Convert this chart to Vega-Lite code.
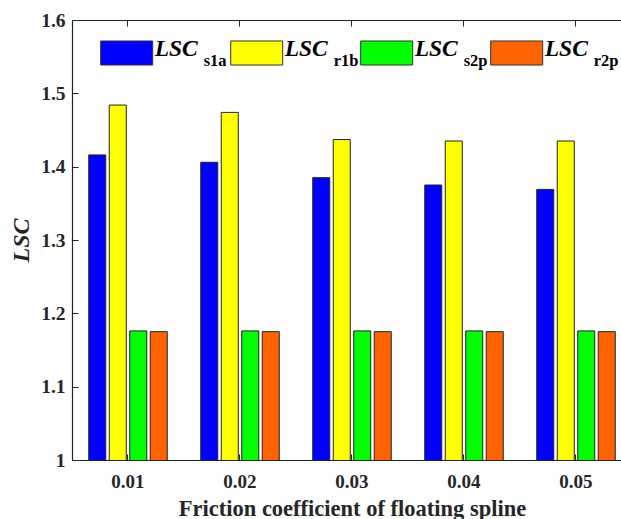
{
  "$schema": "https://vega.github.io/schema/vega-lite/v6.json",
  "width": 549,
  "height": 440,
  "autosize": "none",
  "padding": {"left": 72, "top": 20, "right": 0, "bottom": 59},
  "background": "white",
  "config": {
    "view": {"stroke": null},
    "font": "Liberation Serif",
    "axis": {"grid": false, "domainColor": "#262626", "tickColor": "#262626", "labelColor": "#262626", "titleColor": "#262626", "labelFont": "Liberation Serif", "titleFont": "Liberation Serif", "labelFontWeight": "bold", "titleFontWeight": "bold"}
  },
  "datasets": {
    "bars": [
      {"coef": "0.01", "series": "s1a", "value": 1.416},
      {"coef": "0.01", "series": "r1b", "value": 1.484},
      {"coef": "0.01", "series": "s2p", "value": 1.176},
      {"coef": "0.01", "series": "r2p", "value": 1.175},
      {"coef": "0.02", "series": "s1a", "value": 1.406},
      {"coef": "0.02", "series": "r1b", "value": 1.474},
      {"coef": "0.02", "series": "s2p", "value": 1.176},
      {"coef": "0.02", "series": "r2p", "value": 1.175},
      {"coef": "0.03", "series": "s1a", "value": 1.385},
      {"coef": "0.03", "series": "r1b", "value": 1.437},
      {"coef": "0.03", "series": "s2p", "value": 1.176},
      {"coef": "0.03", "series": "r2p", "value": 1.175},
      {"coef": "0.04", "series": "s1a", "value": 1.375},
      {"coef": "0.04", "series": "r1b", "value": 1.435},
      {"coef": "0.04", "series": "s2p", "value": 1.176},
      {"coef": "0.04", "series": "r2p", "value": 1.175},
      {"coef": "0.05", "series": "s1a", "value": 1.369},
      {"coef": "0.05", "series": "r1b", "value": 1.435},
      {"coef": "0.05", "series": "s2p", "value": 1.176},
      {"coef": "0.05", "series": "r2p", "value": 1.175}
    ],
    "legend": [
      {"series": "s1a", "main": "LSC", "sub": "s1a"},
      {"series": "r1b", "main": "LSC", "sub": "r1b"},
      {"series": "s2p", "main": "LSC", "sub": "s2p"},
      {"series": "r2p", "main": "LSC", "sub": "r2p"}
    ]
  },
  "layer": [
    {
      "layer": [
        {
          "data": {"name": "bars"},
          "mark": {"type": "bar", "stroke": "#222222", "strokeWidth": 1, "clip": true},
          "encoding": {
            "x": {"field": "coef", "type": "nominal", "sort": null,
              "scale": {"type": "band", "paddingInner": 0.268, "paddingOuter": 0.0849, "align": 0.789},
              "axis": {"orient": "bottom", "title": "Friction coefficient of floating spline", "labelAngle": 0, "labelFontSize": 19, "tickSize": -6, "labelPadding": 18, "domainWidth": 1.2, "titleFontSize": 22.5, "titleX": 280, "titleY": 55, "titleBaseline": "alphabetic", "titleAlign": "center", "titlePadding": 0}},
            "xOffset": {"field": "series", "type": "nominal", "sort": ["s1a", "r1b", "s2p", "r2p"],
              "scale": {"domain": ["s1a", "r1b", "s2p", "r2p"], "paddingInner": 0.17, "paddingOuter": 0.085}},
            "y": {"field": "value", "type": "quantitative",
              "scale": {"domain": [1, 1.6], "zero": false, "nice": false},
              "axis": {"values": [1, 1.1, 1.2, 1.3, 1.4, 1.5, 1.6], "format": ".1~f", "labelFontSize": 19.5, "tickSize": -6, "labelPadding": 13, "domainWidth": 1.2, "title": "LSC", "titleFontSize": 24, "titleFontStyle": "italic", "titleX": -51, "titleY": 220, "titleAngle": 270, "titleAlign": "center", "titleBaseline": "middle"}},
            "color": {"field": "series", "type": "nominal",
              "scale": {"domain": ["s1a", "r1b", "s2p", "r2p"], "range": ["#0000FF", "#FFFF00", "#00FF00", "#FF6400"]},
              "legend": null}
          }
        },
        {
          "data": {"name": "bars"},
          "mark": {"type": "point", "opacity": 0},
          "encoding": {
            "x": {"field": "coef", "type": "nominal", "sort": null,
              "scale": {"type": "band", "paddingInner": 0.268, "paddingOuter": 0.0849, "align": 0.789},
              "axis": {"orient": "top", "labels": false, "title": null, "tickSize": -6, "domainWidth": 1.2}},
            "y": {"field": "value", "type": "quantitative"}
          }
        }
      ],
      "resolve": {"axis": {"x": "independent"}}
    },
    {
      "data": {"name": "legend"},
      "layer": [
        {
          "mark": {"type": "bar", "width": 52, "stroke": "#333333", "strokeWidth": 1},
          "encoding": {
            "x": {"field": "series", "type": "nominal", "sort": ["s1a", "r1b", "s2p", "r2p"],
              "scale": {"type": "point", "padding": 0.6115, "align": 0.344}, "axis": null},
            "y": {"datum": 1.5714, "type": "quantitative"},
            "y2": {"datum": 1.5386},
            "color": {"field": "series", "type": "nominal", "legend": null}
          }
        },
        {
          "mark": {"type": "text", "align": "left", "baseline": "alphabetic", "dx": 28, "fontSize": 23.5, "fontWeight": "bold", "fontStyle": "italic", "font": "Liberation Serif", "color": "#000000"},
          "encoding": {
            "x": {"field": "series", "type": "nominal", "sort": ["s1a", "r1b", "s2p", "r2p"], "axis": null},
            "y": {"datum": 1.5509, "type": "quantitative"},
            "text": {"field": "main"}
          }
        },
        {
          "mark": {"type": "text", "align": "left", "baseline": "alphabetic", "dx": 77, "dy": 10, "fontSize": 16.5, "fontWeight": "bold", "font": "Liberation Serif", "color": "#000000"},
          "encoding": {
            "x": {"field": "series", "type": "nominal", "sort": ["s1a", "r1b", "s2p", "r2p"], "axis": null},
            "y": {"datum": 1.5509, "type": "quantitative"},
            "text": {"field": "sub"}
          }
        }
      ]
    }
  ],
  "resolve": {"scale": {"x": "independent"}}
}
